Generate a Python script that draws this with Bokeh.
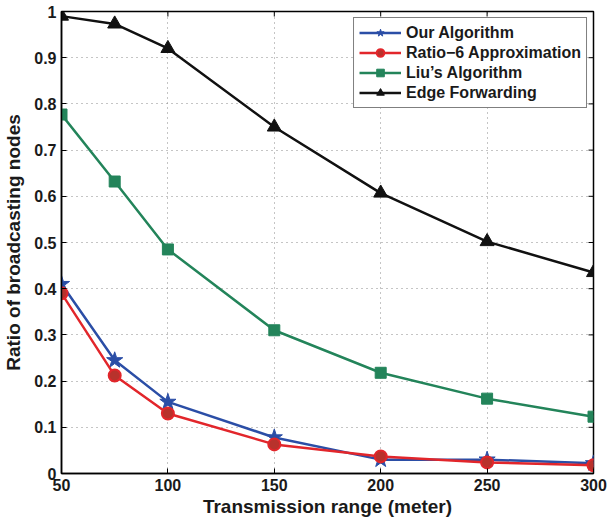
from bokeh.plotting import figure
from bokeh.models import FixedTicker, Range1d, Legend, LegendItem
from bokeh.embed import file_html
from bokeh.resources import INLINE
import math

# ---- data ----
x_range_m = [50, 75, 100, 150, 200, 250, 300]
our_algorithm = [0.41, 0.245, 0.155, 0.078, 0.030, 0.030, 0.022]
ratio6_approx = [0.39, 0.212, 0.130, 0.063, 0.037, 0.024, 0.018]
liu_algorithm = [0.777, 0.632, 0.485, 0.310, 0.218, 0.162, 0.123]
edge_forwarding = [0.99, 0.973, 0.920, 0.750, 0.607, 0.502, 0.435]

x_ticks = [50, 100, 150, 200, 250, 300]
y_ticks = [0, 0.1, 0.2, 0.3, 0.4, 0.5, 0.6, 0.7, 0.8, 0.9, 1]
y_tick_labels = ["0", "0.1", "0.2", "0.3", "0.4", "0.5", "0.6", "0.7", "0.8", "0.9", "1"]

series_names = ["Our Algorithm", "Ratio\u22126 Approximation", "Liu\u2019s Algorithm", "Edge Forwarding"]

X_MIN, X_MAX = 50, 300
Y_MIN, Y_MAX = 0, 1

FONT = "Liberation Sans"

p = figure(width=607, height=522, output_backend="svg", toolbar_location=None,
           x_range=Range1d(X_MIN, X_MAX), y_range=Range1d(Y_MIN, Y_MAX),
           min_border_left=61, min_border_right=14, min_border_top=11, min_border_bottom=49)
p.background_fill_color = "white"
p.border_fill_color = "white"
p.outline_line_color = "black"
p.outline_line_width = 1.5

for ax in (p.xaxis[0], p.yaxis[0]):
    ax.major_tick_in = 5
    ax.major_tick_out = 0
    ax.minor_tick_in = 0
    ax.minor_tick_out = 0
    ax.axis_line_color = "black"
    ax.axis_line_width = 1.5
    ax.major_tick_line_color = "black"
    ax.major_label_text_font = FONT
    ax.major_label_text_font_style = "bold"
    ax.major_label_text_font_size = "16px"
    ax.major_label_text_color = "#1a1a1a"
    ax.axis_label_text_font = FONT
    ax.axis_label_text_font_style = "bold"
    ax.axis_label_text_font_size = "19px"
    ax.axis_label_text_color = "#1a1a1a"

p.xaxis[0].ticker = FixedTicker(ticks=x_ticks)
p.yaxis[0].ticker = FixedTicker(ticks=y_ticks)
p.yaxis[0].major_label_overrides = dict(zip(y_ticks, y_tick_labels))
p.xaxis[0].axis_label = "Transmission range (meter)"
p.yaxis[0].axis_label = "Ratio of broadcasting nodes"
p.xaxis[0].major_label_standoff = 5
p.xaxis[0].axis_label_standoff = 2
p.yaxis[0].major_label_standoff = 5
p.yaxis[0].axis_label_standoff = 7

for g in (p.xgrid[0], p.ygrid[0]):
    g.grid_line_color = "#8a8a8a"
    g.grid_line_dash = "1 4"
    g.grid_line_width = 1
p.xgrid[0].ticker = FixedTicker(ticks=x_ticks)
p.ygrid[0].ticker = FixedTicker(ticks=y_ticks)

# inward box ticks on the top and right frame edges (clipped half of a dash marker)
p.scatter(x_ticks, [Y_MAX] * len(x_ticks), marker="dash", angle=math.pi / 2, size=10,
          line_color="black", line_width=1)
p.scatter([X_MAX] * len(y_ticks), y_ticks, marker="dash", size=10,
          line_color="black", line_width=1)

items = []
# Our Algorithm
l1 = p.line(x_range_m, our_algorithm, line_color="#2b4ea6", line_width=2.5)
s1 = p.scatter(x_range_m, our_algorithm, marker="star", size=17,
               fill_color="#2b4ea6", line_color="#2b4ea6")
items.append(LegendItem(label=series_names[0], renderers=[l1, s1]))
# Ratio-6
l2 = p.line(x_range_m, ratio6_approx, line_color="#e2262b", line_width=2.5)
s2 = p.scatter(x_range_m, ratio6_approx, marker="circle", size=12,
               fill_color="#b8322c", line_color="#e2262b", line_width=2)
items.append(LegendItem(label=series_names[1], renderers=[l2, s2]))
# Liu's
l3 = p.line(x_range_m, liu_algorithm, line_color="#23845a", line_width=2.5)
s3 = p.scatter(x_range_m, liu_algorithm, marker="square", size=11,
               fill_color="#23845a", line_color="#23845a")
items.append(LegendItem(label=series_names[2], renderers=[l3, s3]))
# Edge forwarding
l4 = p.line(x_range_m, edge_forwarding, line_color="#111111", line_width=2.5)
s4 = p.scatter(x_range_m, edge_forwarding, marker="triangle", size=14,
               fill_color="#111111", line_color="#111111")
items.append(LegendItem(label=series_names[3], renderers=[l4, s4]))

legend = Legend(items=items, location="top_right")
legend.label_text_font = FONT
legend.label_text_font_style = "bold"
legend.label_text_font_size = "16px"
legend.label_text_color = "#1a1a1a"
legend.border_line_color = "black"
legend.border_line_width = 1.5
legend.background_fill_alpha = 1
legend.padding = 5
legend.spacing = 1
legend.margin = 6
legend.glyph_width = 42
legend.glyph_height = 19
legend.label_height = 19
legend.label_standoff = 5
p.add_layout(legend, "center")

open("out.html", "w").write(file_html(p, INLINE))
